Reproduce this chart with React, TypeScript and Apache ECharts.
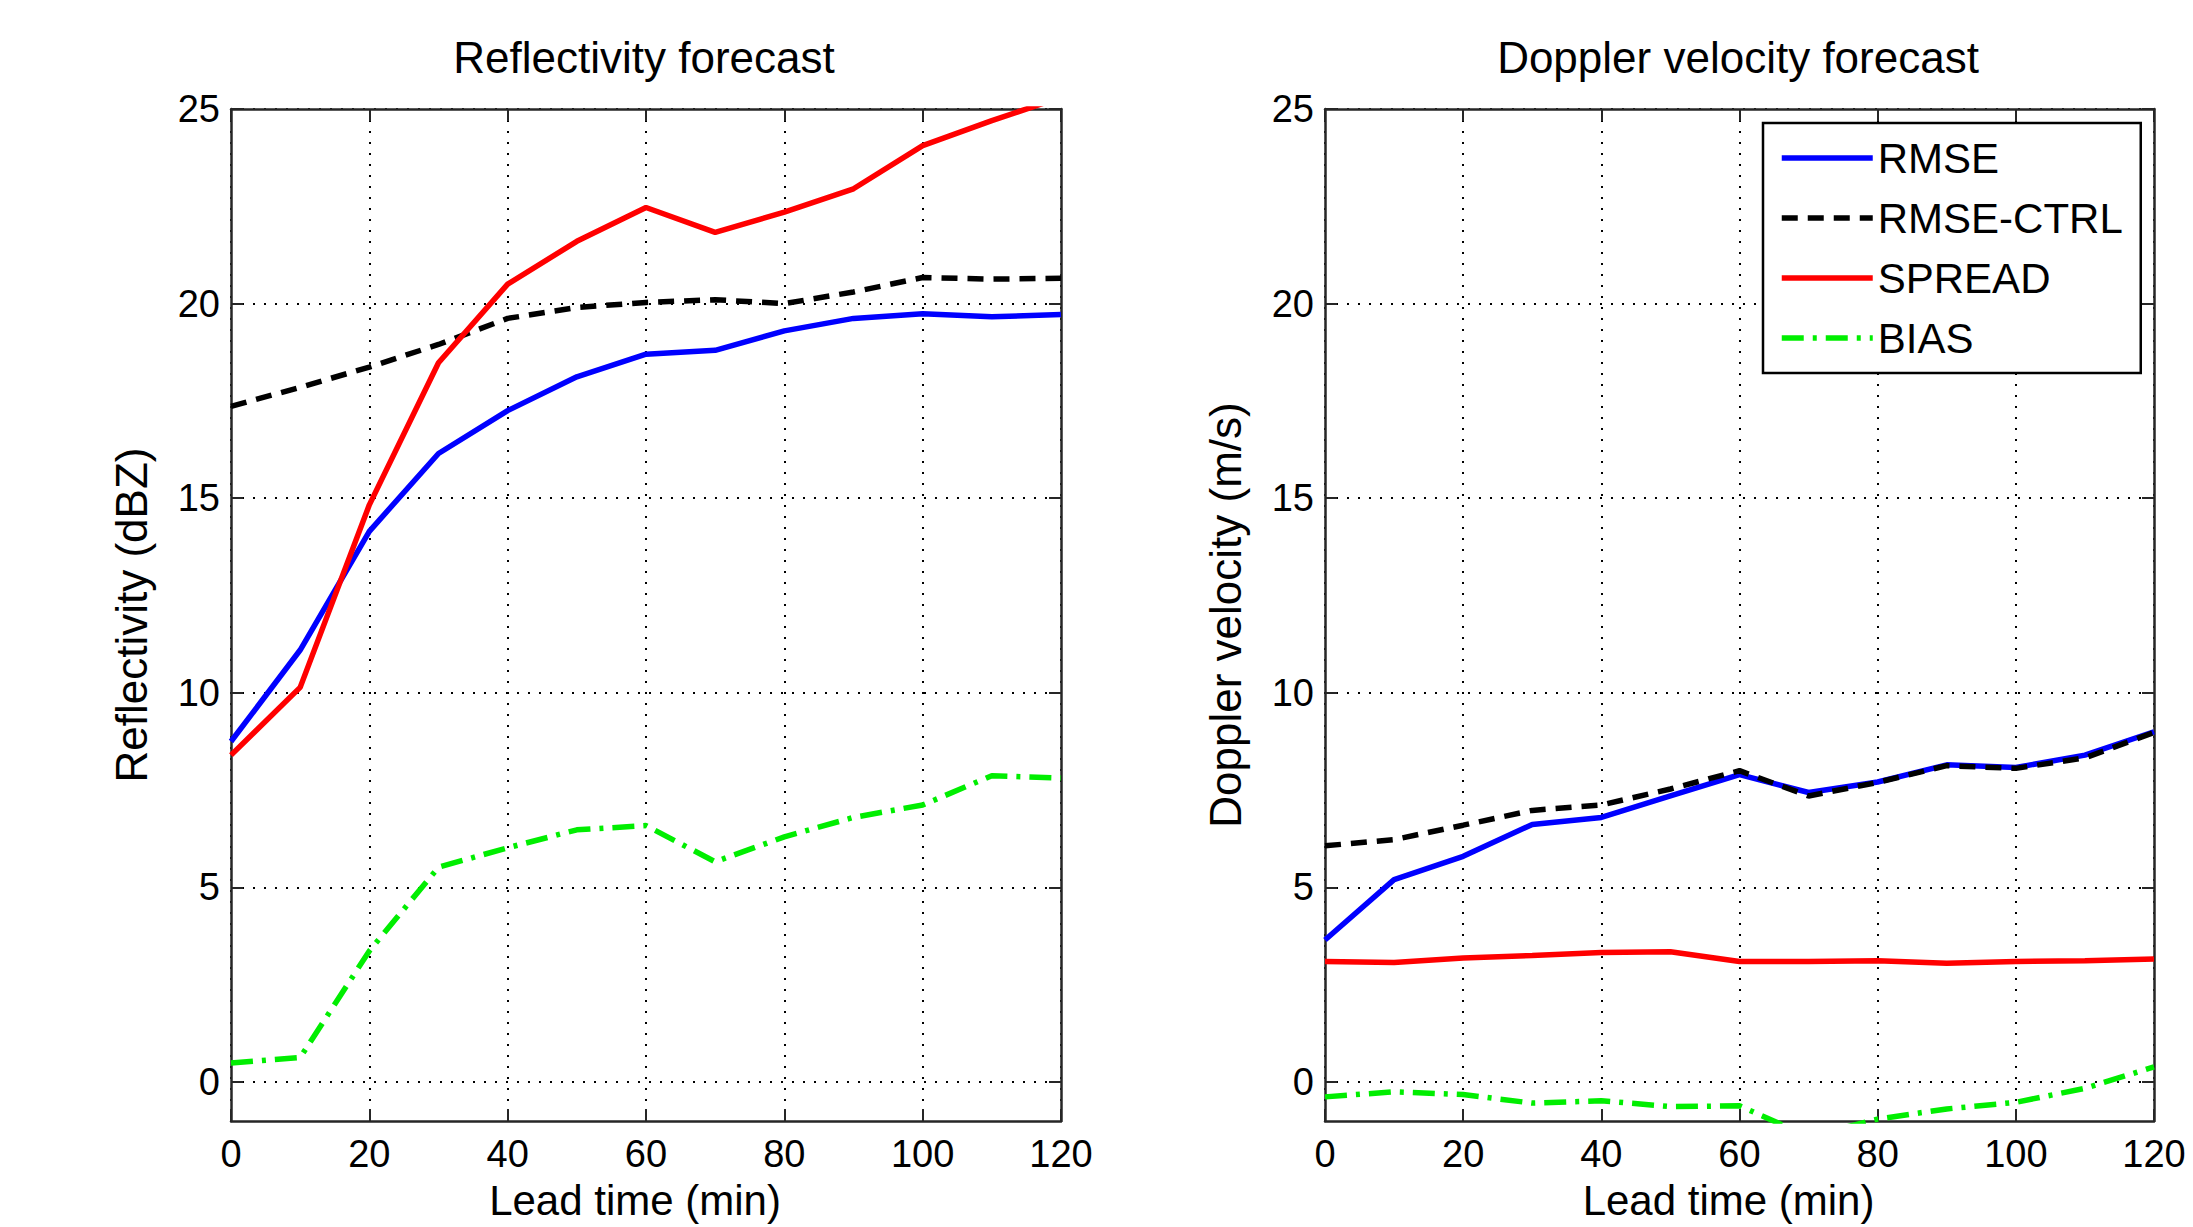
import React, { useEffect, useRef } from "react";
import * as echarts from "echarts";

const leadTime = [0, 10, 20, 30, 40, 50, 60, 70, 80, 90, 100, 110, 120];
const yTicks = [0, 5, 10, 15, 20, 25];

const seriesNames = ["RMSE", "RMSE-CTRL", "SPREAD", "BIAS"];

// Reflectivity forecast (dBZ)
const reflRmse = [8.75, 11.1, 14.15, 16.15, 17.25, 18.12, 18.7, 18.8, 19.3, 19.62, 19.74, 19.66, 19.72];
const reflRmseCtrl = [17.36, 17.85, 18.37, 18.95, 19.62, 19.9, 20.03, 20.1, 20.0, 20.3, 20.67, 20.63, 20.65];
const reflSpread = [8.4, 10.14, 14.83, 18.48, 20.5, 21.6, 22.47, 21.83, 22.35, 22.95, 24.06, 24.7, 25.3];
const reflBias = [0.49, 0.63, 3.37, 5.52, 6.02, 6.48, 6.59, 5.66, 6.3, 6.8, 7.12, 7.87, 7.81];

// Doppler velocity forecast (m/s)
const dopRmse = [3.65, 5.2, 5.8, 6.62, 6.8, 7.35, 7.9, 7.44, 7.71, 8.15, 8.08, 8.4, 9.0];
const dopRmseCtrl = [6.07, 6.23, 6.6, 6.98, 7.12, 7.53, 8.0, 7.35, 7.7, 8.13, 8.06, 8.33, 8.98];
const dopSpread = [3.1, 3.07, 3.19, 3.25, 3.33, 3.35, 3.1, 3.1, 3.12, 3.05, 3.1, 3.12, 3.16];
const dopBias = [-0.38, -0.25, -0.32, -0.54, -0.48, -0.63, -0.61, -1.4, -0.95, -0.69, -0.52, -0.16, 0.39];

const FONT = "'Liberation Sans', Arial, Helvetica, sans-serif";
const AXIS_COLOR = "#262626";

const pair = (ys: number[]) => leadTime.map((x, i) => [x, ys[i]]);

export default function App() {
  const ref = useRef<HTMLDivElement>(null);

  useEffect(() => {
    if (!ref.current) return;
    const chart = echarts.init(ref.current, null, { renderer: "svg" });

    const grids = [
      { left: 231, top: 109, width: 830, height: 1012 },
      { left: 1325, top: 109, width: 829, height: 1012 },
    ];

    const gridLine = { show: true, lineStyle: { color: "#000", width: 2, type: [2, 9] as any } };

    const xAxes: any[] = [];
    const yAxes: any[] = [];
    const yNames = ["Reflectivity (dBZ)", "Doppler velocity (m/s)"];
    for (let g = 0; g < 2; g++) {
      xAxes.push({
        type: "value",
        gridIndex: g,
        position: "bottom",
        min: 0,
        max: 120,
        interval: 20,
        name: "Lead time (min)",
        nameLocation: "middle",
        nameGap: 58,
        nameTextStyle: { fontSize: 42, color: "#000", fontFamily: FONT, padding: [0, 22, 0, 0] },
        axisLine: { show: true, onZero: false, lineStyle: { color: AXIS_COLOR, width: 2.5 } },
        axisTick: { show: true, inside: true, length: 12, lineStyle: { color: AXIS_COLOR, width: 2 } },
        axisLabel: { show: true, margin: 14, fontSize: 38, color: "#000", fontFamily: FONT },
        splitLine: gridLine,
      });
      xAxes.push({
        type: "value",
        gridIndex: g,
        position: "top",
        min: 0,
        max: 120,
        interval: 20,
        axisLine: { show: true, onZero: false, lineStyle: { color: AXIS_COLOR, width: 2.5 } },
        axisTick: { show: true, inside: true, length: 12, lineStyle: { color: AXIS_COLOR, width: 2 } },
        axisLabel: { show: false },
        splitLine: { show: false },
      });
      yAxes.push({
        type: "value",
        gridIndex: g,
        position: "left",
        min: -1,
        max: 25,
        name: yNames[g],
        nameLocation: "middle",
        nameGap: 78,
        nameTextStyle: { fontSize: 44, color: "#000", fontFamily: FONT },
        axisLine: { show: true, onZero: false, lineStyle: { color: AXIS_COLOR, width: 2.5 } },
        axisTick: { show: true, inside: true, length: 12, customValues: yTicks, lineStyle: { color: AXIS_COLOR, width: 2 } },
        axisLabel: { show: true, margin: 11, fontSize: 38, color: "#000", fontFamily: FONT, customValues: yTicks },
        splitLine: gridLine,
      });
      yAxes.push({
        type: "value",
        gridIndex: g,
        position: "right",
        min: -1,
        max: 25,
        axisLine: { show: true, onZero: false, lineStyle: { color: AXIS_COLOR, width: 2.5 } },
        axisTick: { show: true, inside: true, length: 12, customValues: yTicks, lineStyle: { color: AXIS_COLOR, width: 2 } },
        axisLabel: { show: false, customValues: yTicks },
        splitLine: { show: false },
      });
    }

    const styles: any[] = [
      { color: "#0000ff", type: "solid" },
      { color: "#000000", type: [16, 10] },
      { color: "#ff0000", type: "solid" },
      { color: "#00ee00", type: [22, 9, 4, 9] },
    ];

    const panels = [
      [reflRmse, reflRmseCtrl, reflSpread, reflBias],
      [dopRmse, dopRmseCtrl, dopSpread, dopBias],
    ];

    const series: any[] = [];
    panels.forEach((sets, g) => {
      sets.forEach((ys, k) => {
        series.push({
          type: "line",
          name: seriesNames[k],
          xAxisIndex: g * 2,
          yAxisIndex: g * 2,
          data: pair(ys),
          symbol: "none",
          showSymbol: false,
          clip: true,
          color: styles[k].color,
          lineStyle: { color: styles[k].color, width: 5.5, type: styles[k].type },
          z: 3 + k,
        });
      });
    });

    chart.setOption({
      animation: false,
      backgroundColor: "#ffffff",
      grid: grids.map((gr) => ({ ...gr, show: false, containLabel: false })),
      xAxis: xAxes,
      yAxis: yAxes,
      series,
      legend: {
        show: true,
        orient: "vertical",
        left: 1763,
        top: 123,
        data: seriesNames,
        padding: [11, 18, 11, 16],
        itemGap: 12,
        itemWidth: 91,
        itemHeight: 14,
        borderColor: "#000",
        borderWidth: 2.5,
        backgroundColor: "#ffffff",
        selectedMode: false,
        itemStyle: { opacity: 0, borderWidth: 0 },
        lineStyle: { width: 5.5 },
        textStyle: { fontSize: 42, lineHeight: 48, color: "#000", fontFamily: FONT },
      },
      graphic: [
        {
          type: "text",
          x: 644,
          y: 57,
          style: {
            text: "Reflectivity forecast",
            fontSize: 44,
            fontFamily: FONT,
            fill: "#000",
            textAlign: "center",
            textVerticalAlign: "middle",
          },
        },
        {
          type: "text",
          x: 1738,
          y: 57,
          style: {
            text: "Doppler velocity forecast",
            fontSize: 44,
            fontFamily: FONT,
            fill: "#000",
            textAlign: "center",
            textVerticalAlign: "middle",
          },
        },
      ],
    });

    return () => {
      chart.dispose();
    };
  }, []);

  return (
    <div
      ref={ref}
      style={{ position: "absolute", left: 0, top: 0, width: 2193, height: 1227, background: "#fff" }}
    />
  );
}
